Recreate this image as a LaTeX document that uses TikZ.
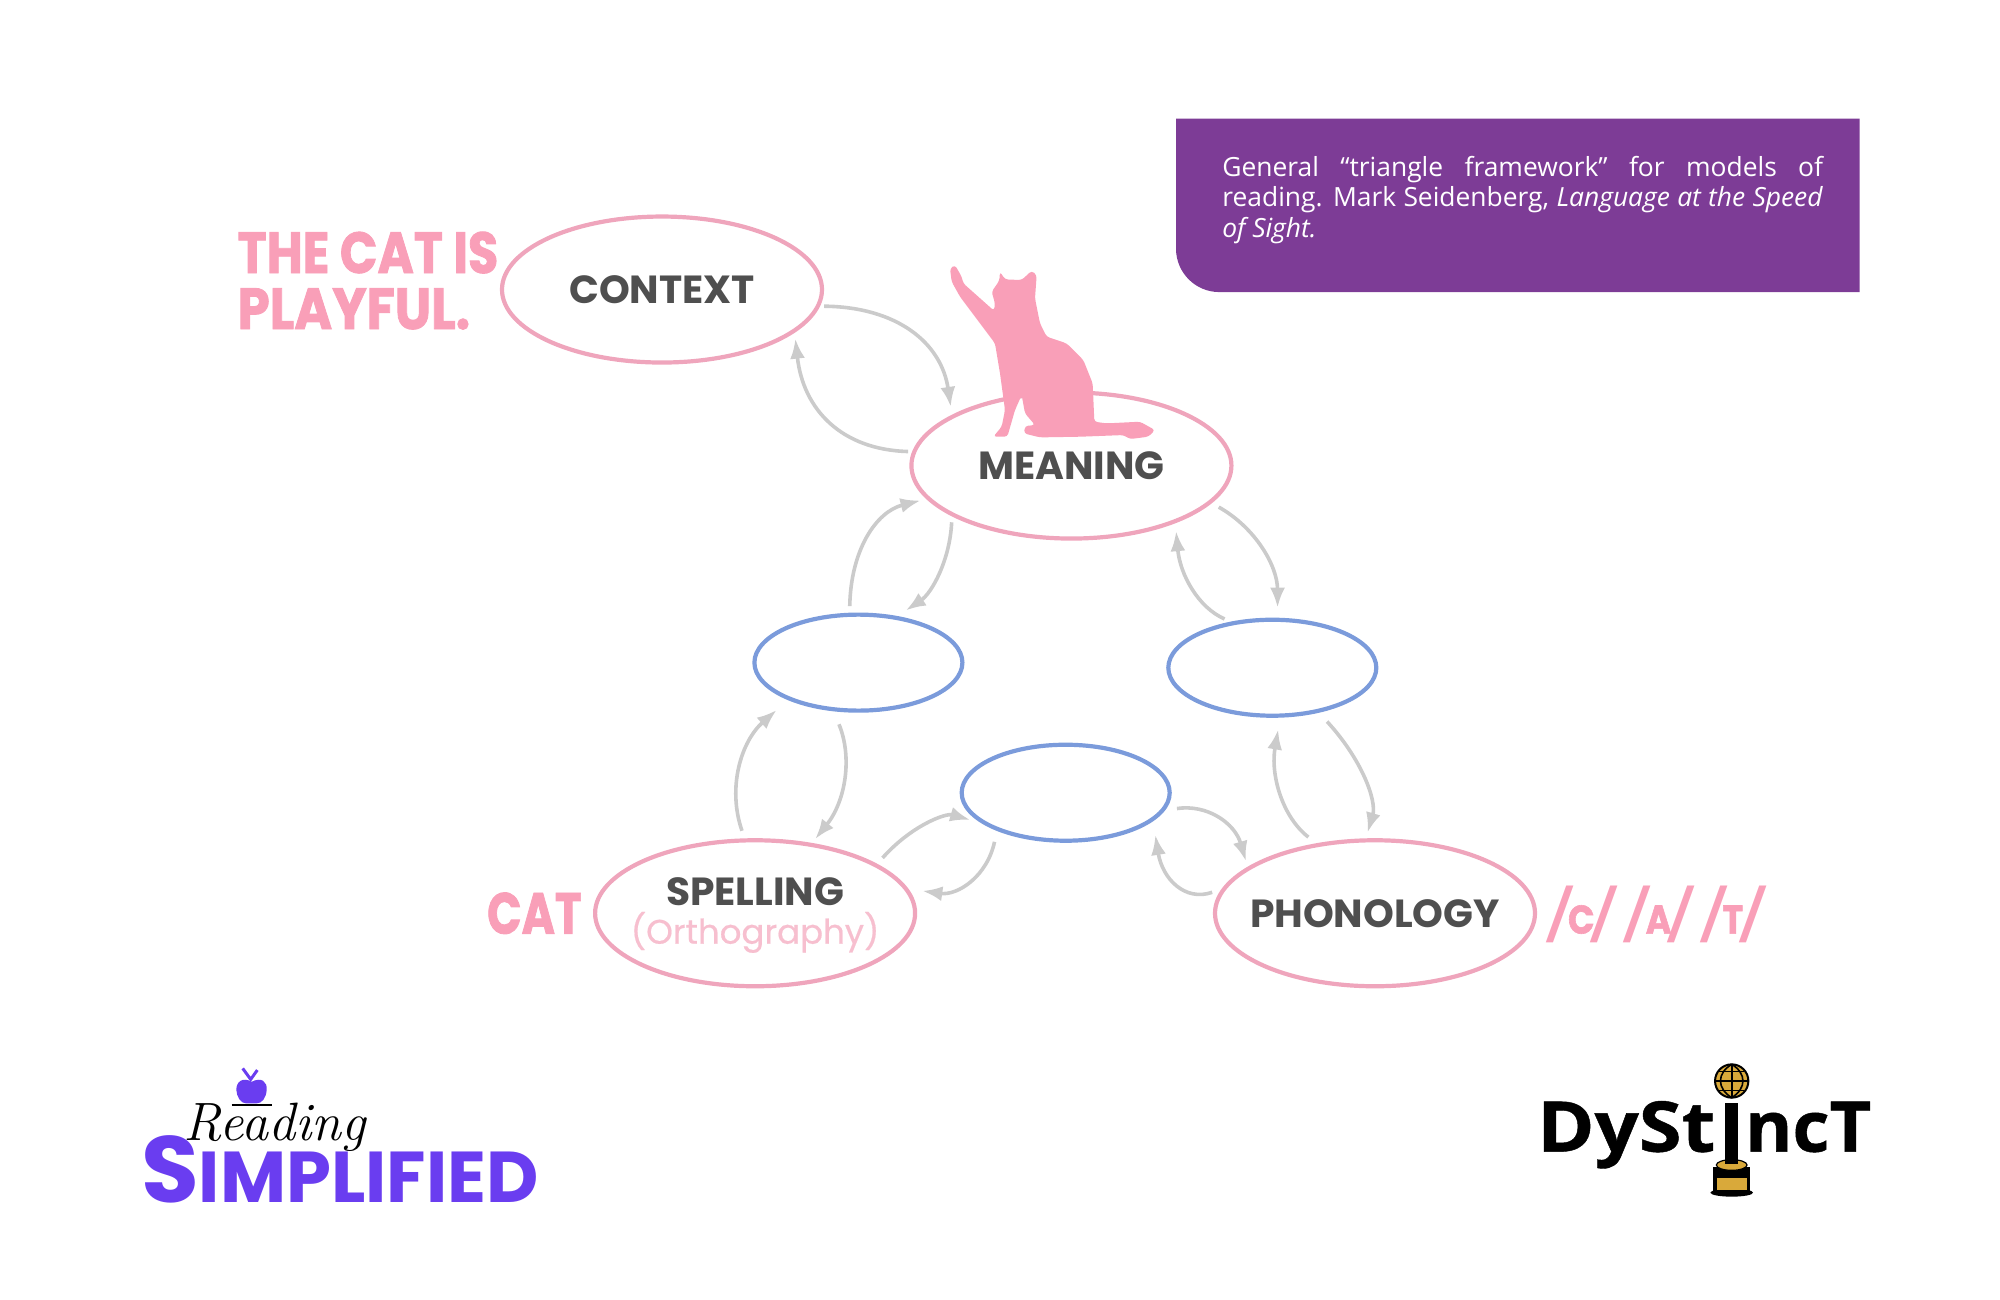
\documentclass[tikz,border=0pt]{standalone}
\usepackage{graphicx}
\usepackage{fontspec}
\usetikzlibrary{shapes.geometric,arrows.meta,calc}
\setmainfont{Open Sans}
\newfontfamily\pop{Poppins}
\newfontfamily\popmed[FakeBold=0.5]{Poppins}
\newfontfamily\popheavy[BoldFeatures={FakeBold=1.6}]{Poppins}
\newfontfamily\opensans[BoldFeatures={FakeBold=0.6}]{Open Sans}
\newfontfamily\libsans{Liberation Sans}
\newfontfamily\lmroman{Latin Modern Roman}
\definecolor{pinkline}{HTML}{EFA5BC}
\definecolor{pinktext}{HTML}{F99FB8}
\definecolor{pinklight}{HTML}{F7BFCF}
\definecolor{darktext}{HTML}{4F4F4F}
\definecolor{blueline}{HTML}{7B9BDB}
\definecolor{arrowgray}{HTML}{CBCBCB}
\definecolor{boxpurple}{HTML}{7D3C96}
\definecolor{logopurple}{HTML}{6A3DF0}
\definecolor{gold}{HTML}{D9A93A}
\tikzset{
  bigell/.style={ellipse,draw=pinkline,fill=white,line width=2.1pt,minimum width=160pt,minimum height=73pt,inner sep=0pt,text=darktext,font=\pop\bfseries\fontsize{19.6}{24}\selectfont},
  smallell/.style={ellipse,draw=blueline,fill=white,line width=2.1pt,minimum width=104pt,minimum height=48pt,inner sep=0pt},
  flow/.style={draw=arrowgray,line width=1.8pt,-{Latex[length=10pt,width=7.5pt]}},
  heavy/.style={text=pinktext,inner sep=0pt,font=\popheavy\bfseries\fontsize{29}{28}\selectfont},
}
\newcommand{\flowarc}[5]{\draw[flow,shorten <=#1pt,shorten >=#2pt] (#3) .. controls ($(#3)!0.667!(#4)$) and ($(#5)!0.667!(#4)$) .. (#5);}
\begin{document}
\begin{tikzpicture}[x=0.63776pt,y=-0.63776pt]
\useasboundingbox (0,0) rectangle (1568,1019.2);
% purple box
\fill[boxpurple] (922,93) -- (1458,93) -- (1458,229) -- (956,229) arc[start angle=90,end angle=180,radius=34] -- cycle;
\node[anchor=north west,inner sep=0pt,text=white] (note) at (958,122) {\parbox{300.4pt}{\fontsize{13.2}{15.3}\selectfont General “triangle framework” for models of\linebreak reading. Mark Seidenberg, \textit{Language at the Speed}\linebreak \textit{of Sight.}}};
% ellipses
\node[bigell] (context) at (519,227) {\makebox[0pt]{CONTEXT}};
\node[bigell] (meaning) at (840,365) {\makebox[0pt]{MEANING}};
\node[bigell] (spelling) at (592,716) {};
\node[bigell] (phonology) at (1078,716) {\makebox[0pt]{PHONOLOGY}};
\node[smallell] (orth) at (673,519.5) {};
\node[smallell] (phon) at (997.5,523.5) {};
\node[smallell] (sem) at (835.5,621.5) {};
\node[inner sep=0pt,text=darktext,font=\pop\bfseries\fontsize{19.6}{24}\selectfont] (spellinglabel) at (592,699) {SPELLING};
\node[inner sep=0pt,text=pinklight,font=\popmed\fontsize{17}{24}\selectfont] (orthlabel) at (592,731) {(Orthography)};
% side labels
\node[heavy,anchor=west,align=left] (playful) at (186,220) {\scalebox{0.85}[1]{THE CAT IS}\\\scalebox{0.887}[1]{PLAYFUL.}};
\node[heavy,anchor=center] (cat) at (419,716) {\scalebox{0.78}[1]{CAT}};
\node[anchor=center,inner sep=0pt,text=pinktext,font=\popheavy\bfseries] (sounds) at (1298,717) {\scalebox{0.87}[1]{\fontsize{25}{25}\selectfont\itshape /\kern-0.5pt\fontsize{20}{25}\selectfont\upshape C\kern-0.5pt\fontsize{25}{25}\selectfont\itshape/ \kern2pt/\kern-0.5pt\fontsize{20}{25}\selectfont\upshape A\kern-0.5pt\fontsize{25}{25}\selectfont\itshape/ \kern2pt/\kern-0.5pt\fontsize{20}{25}\selectfont\upshape T\kern-0.5pt\fontsize{25}{25}\selectfont\itshape/}};
% connectors
\flowarc{2}{4}{context.-6}{734,241}{meaning.157}
\flowarc{2}{3}{meaning.175}{633,352}{context.-18.4}
\flowarc{3.3}{3}{orth.100}{667.5,406}{meaning.193}
\flowarc{3}{5}{meaning.203.7}{744,456}{orth.50}
\flowarc{4}{5}{meaning.-15}{1001.5,423.5}{phon.84}
\flowarc{3.4}{4}{phon.132}{927,471}{meaning.-29}
\flowarc{4}{7.5}{spelling.98}{563,597}{orth.208}
\flowarc{7}{2.5}{orth.243}{676,612}{spelling.51}
\flowarc{4}{6}{spelling.22}{727,633}{sem.200.8}
\flowarc{5.6}{7}{sem.209.7}{770,705}{spelling.9.6}
\flowarc{6}{3}{sem.-10}{963,628}{phonology.160.4}
\flowarc{5}{7}{phonology.171}{915,712}{sem.-18.4}
\flowarc{5}{6}{phonology.130}{992,630}{phon.-81}
\flowarc{6}{3}{phon.-44}{1084,613}{phonology.97}
% cat silhouette
\begin{scope}[shift={(705.6,188.2)},x=0.16667pt,y=-0.16667pt]
\fill[pinktext,rounded corners=1.5pt] (150,85) -- (165,75) -- (185,110) -- (190,130) -- (282,212) -- (285,190) -- (275,155) -- (298,122) -- (300,95) -- (315,118) -- (365,120) -- (395,92) -- (410,105) -- (405,175) -- (420,250) -- (440,290) -- (500,310) -- (550,360) -- (578,430) -- (583,545) -- (620,550) -- (720,545) -- (765,570) -- (745,590) -- (690,597) -- (670,585) -- (540,590) -- (420,592) -- (372,580) -- (375,558) -- (405,555) -- (375,520) -- (365,465) -- (345,510) -- (322,590) -- (280,590) -- (305,560) -- (315,510) -- (300,400) -- (285,310) -- (180,170) -- (155,125) -- cycle;
\end{scope}
% Reading Simplified logo
\begin{scope}[shift={(94.1,815.4)},x=0.16667pt,y=-0.16667pt]
\fill[logopurple] (395,125) .. controls (425,110) and (442,125) .. (440,150) .. controls (438,175) and (425,190) .. (410,190) -- (378,190) .. controls (362,190) and (350,170) .. (349,150) .. controls (348,125) and (368,110) .. (395,125) -- cycle;
\draw[logopurple,line width=1.5pt] (368,85) -- (392,118) -- (412,90);
\draw[black,line width=0.8pt] (335,195) -- (457,195);
\node[anchor=base west,inner sep=0pt,text=black] (reading) at (190,300) {\lmroman\itshape\fontsize{27}{27}\selectfont Reading};
\node[anchor=base west,inner sep=0pt,text=logopurple,font=\pop\bfseries] (simplified) at (62,487) {\fontsize{47}{47}\selectfont S\fontsize{36}{36}\selectfont IMPLIFIED};
\end{scope}
% DyStIncT logo
\begin{scope}[shift={(1191.7,823.2)},x=0.16667pt,y=-0.16667pt]
\node[anchor=base west,inner sep=0pt,text=black,font=\opensans\bfseries\fontsize{35}{35}\selectfont] (dyst) at (50,305) {\scalebox{1.11}[1]{DySt}};
\node[anchor=base west,inner sep=0pt,text=black,font=\opensans\bfseries\fontsize{35}{35}\selectfont] (nct) at (674,305) {\scalebox{1.03}[1]{ncT}};
\node[anchor=base,inner sep=0pt,text=black,font=\libsans\bfseries\fontsize{41}{41}\selectfont] (stemi) at (635,335) {\makebox[0pt]{I}};
\fill[black] (580,352) rectangle (690,430);
\fill[black] (635,428) ellipse [x radius=64,y radius=12];
\fill[gold,draw=black,line width=0.6pt] (635,345) ellipse [x radius=46,y radius=16];
\fill[gold] (592,385) rectangle (682,420);
\fill[black] (615,160) rectangle (655,342);
\filldraw[fill=gold,draw=black,line width=1pt] (635,93) circle [radius=50];
\draw[black,line width=0.8pt] (635,43) .. controls (590,70) and (590,115) .. (635,143) .. controls (680,115) and (680,70) .. (635,43);
\draw[black,line width=0.8pt] (635,43) -- (635,143) (587,93) -- (683,93) (597,65) -- (673,65) (597,121) -- (673,121);
\end{scope}
\end{tikzpicture}
\end{document}
